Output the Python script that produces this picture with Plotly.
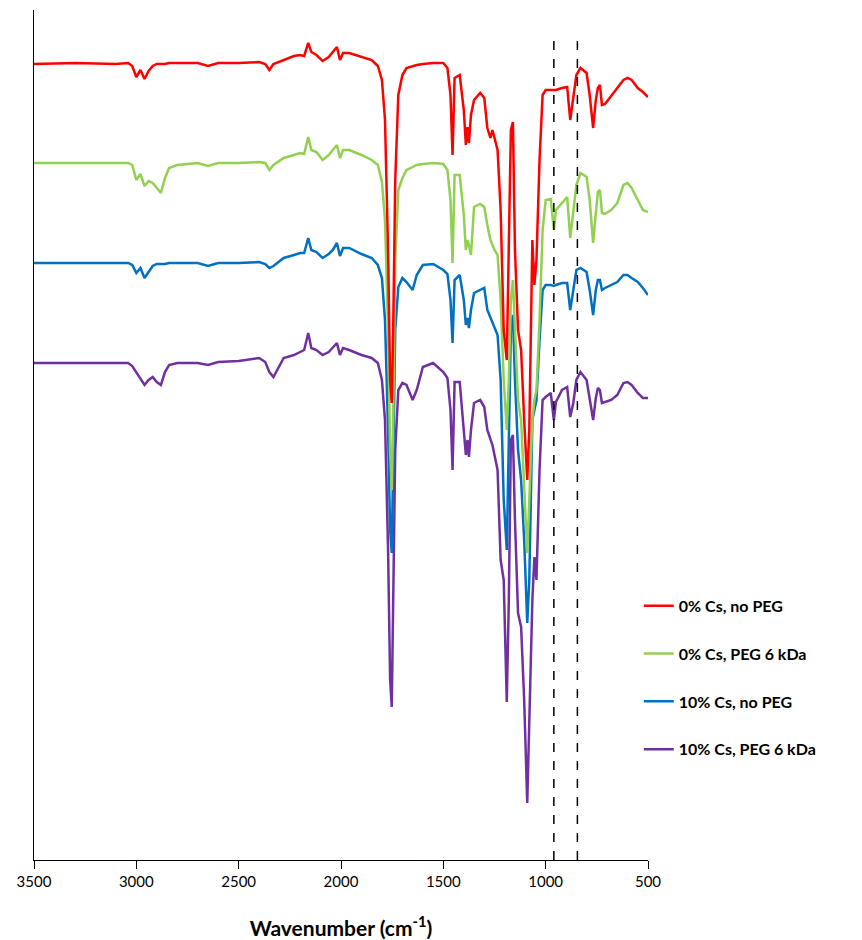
import plotly.graph_objects as go

wavenumber = [3500, 3300, 3100, 3040, 3020, 3000, 2980, 2960, 2940, 2920, 2900, 2880, 2860, 2840, 2800,
              2700, 2650, 2600, 2500, 2400, 2370, 2350, 2330, 2280, 2230, 2200, 2180, 2160, 2145, 2120,
              2090, 2060, 2040, 2020, 2005, 1990, 1960, 1900, 1850, 1820, 1800, 1785, 1770, 1760, 1752,
              1745, 1735, 1720, 1700, 1680, 1650, 1630, 1600, 1550, 1500, 1480, 1465, 1455, 1445, 1420,
              1400, 1390, 1382, 1375, 1365, 1350, 1320, 1300, 1285, 1270, 1260, 1250, 1235, 1220, 1205,
              1190, 1180, 1170, 1160, 1150, 1135, 1120, 1105, 1090, 1080, 1065, 1055, 1045, 1030, 1015,
              1000, 975, 960, 950, 920, 895, 880, 865, 850, 830, 800, 785, 768, 755, 745,
              735, 725, 710, 680, 650, 620, 600, 580, 550, 525, 500]

cs0_noPEG = [796, 797, 796, 797, 794, 783, 790, 781, 789, 794, 796, 796, 796, 797, 797,
             797, 794, 797, 797, 798, 796, 790, 796, 800, 804, 805, 804, 817, 808, 805,
             799, 803, 808, 813, 800, 807, 807, 803, 800, 794, 780, 740, 610, 480, 457,
             530, 680, 765, 785, 792, 794, 795, 796, 797, 797, 792, 765, 705, 782, 785,
             750, 715, 733, 717, 745, 760, 767, 762, 732, 722, 730, 722, 710, 650, 530,
             500, 600, 730, 738, 610, 530, 510, 440, 380, 430, 620, 575, 600, 700, 765,
             770, 770, 770, 770, 772, 773, 740, 763, 785, 792, 787, 765, 732, 760, 772,
             775, 755, 756, 764, 772, 780, 782, 780, 772, 768, 763]

cs0_PEG6 = [697, 697, 697, 697, 695, 680, 686, 674, 679, 677, 672, 667, 682, 692, 695,
            697, 694, 697, 697, 698, 697, 690, 695, 702, 705, 707, 706, 723, 710, 708,
            700, 705, 710, 715, 702, 710, 710, 705, 700, 695, 678, 640, 530, 410, 370,
            440, 600, 670, 682, 690, 693, 695, 696, 697, 696, 690, 660, 597, 685, 685,
            645, 610, 620, 615, 605, 653, 656, 653, 635, 620, 615, 610, 605, 560, 480,
            430, 480, 560, 580, 530, 460, 440, 380, 307, 360, 440, 460, 470, 540, 630,
            660, 661, 630, 650, 657, 663, 622, 650, 675, 687, 683, 660, 617, 647, 668,
            670, 647, 646, 650, 657, 675, 677, 672, 660, 650, 648]

cs10_noPEG = [597, 597, 597, 597, 595, 587, 592, 582, 588, 594, 596, 596, 596, 597, 597,
              597, 594, 597, 597, 598, 596, 592, 594, 602, 605, 607, 607, 622, 610, 608,
              602, 606, 610, 617, 604, 612, 612, 606, 602, 595, 582, 540, 430, 330, 307,
              390, 530, 573, 582, 578, 570, 585, 595, 596, 590, 586, 560, 517, 580, 585,
              560, 535, 542, 532, 550, 567, 570, 572, 550, 542, 537, 532, 525, 480, 360,
              310, 410, 530, 545, 480, 410, 380, 320, 237, 280, 440, 450, 460, 520, 570,
              575, 575, 574, 575, 577, 577, 550, 570, 590, 592, 588, 570, 545, 570, 580,
              580, 570, 572, 575, 578, 585, 585, 582, 578, 572, 565]

cs10_PEG6 = [497, 497, 497, 497, 494, 488, 482, 475, 480, 483, 478, 475, 488, 495, 497,
             497, 495, 498, 499, 502, 498, 488, 483, 502, 505, 508, 510, 527, 512, 510,
             505, 508, 513, 517, 505, 512, 510, 505, 502, 497, 480, 440, 310, 180, 153,
             260, 410, 470, 477, 475, 460, 470, 493, 497, 488, 482, 450, 390, 478, 478,
             430, 405, 420, 403, 430, 457, 460, 453, 430, 422, 415, 405, 390, 300, 280,
             158, 260, 420, 425, 340, 247, 233, 160, 57, 140, 260, 303, 280, 390, 460,
             463, 467, 440, 458, 470, 473, 443, 457, 480, 488, 480, 463, 440, 462, 472,
             470, 457, 458, 460, 465, 477, 478, 475, 467, 462, 462]

series_names = ["0% Cs, no PEG", "0% Cs, PEG 6 kDa", "10% Cs, no PEG", "10% Cs, PEG 6 kDa"]
series_values = [cs0_noPEG, cs0_PEG6, cs10_noPEG, cs10_PEG6]
series_colors = ["#FF0000", "#92D050", "#0070C0", "#7030A0"]
marker_lines = [960, 845]

fig = go.Figure()
# draw purple first so red ends up on top; legend order via legendrank
for i in reversed(range(4)):
    fig.add_trace(go.Scatter(
        x=wavenumber, y=series_values[i], mode="lines", name=series_names[i],
        line=dict(color=series_colors[i], width=2.5),
        legendgroup=f"g{i}", legendrank=i + 1,
    ))

for xv in marker_lines:
    fig.add_shape(type="line", x0=xv, x1=xv, y0=0, y1=820, xref="x", yref="y",
                  line=dict(color="black", width=1.5, dash="dash"))

fig.update_layout(
    width=854, height=932,
    margin=dict(l=26, r=214, t=2, b=80),
    paper_bgcolor="white", plot_bgcolor="white",
    font=dict(family="Lato, Open Sans, sans-serif", color="#000000"),
    showlegend=True,
    legend=dict(
        x=0.985, y=0.319, xanchor="left", yanchor="top",
        font=dict(size=16, family="Lato", weight="bold", color="#000000"),
        traceorder="grouped", tracegroupgap=24,
        bgcolor="rgba(0,0,0,0)",
    ),
    xaxis=dict(
        range=[3500, 500], tickmode="array", tickvals=[3500, 3000, 2500, 2000, 1500, 1000, 500],
        ticks="outside", ticklen=8, tickcolor="#000000", showline=True, linecolor="#000000",
        linewidth=1, showgrid=False, zeroline=False,
        tickfont=dict(size=15, family="Lato", color="#000000"),
        title=dict(text="Wavenumber (cm<sup>-1</sup>)", standoff=32,
                   font=dict(size=21, family="Lato", weight="bold", color="#000000")),
    ),
    yaxis=dict(
        range=[0, 850], showticklabels=False, ticks="", showline=True, linecolor="#000000",
        linewidth=1, showgrid=False, zeroline=False,
    ),
)

fig.write_html("out.html")
